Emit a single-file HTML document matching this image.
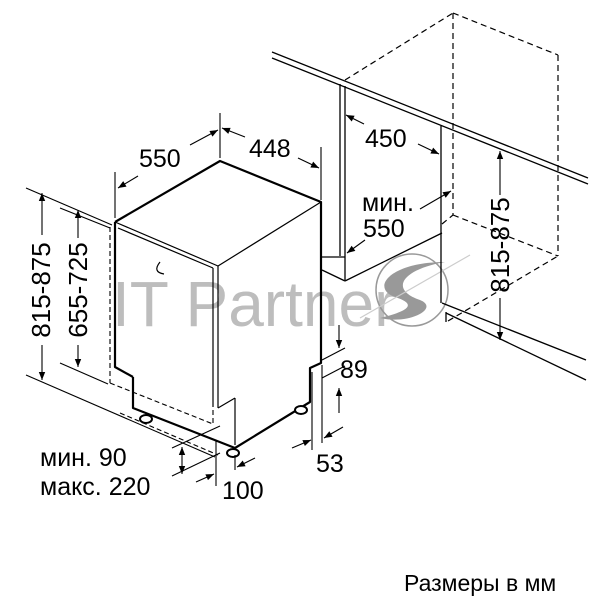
<!DOCTYPE html>
<html><head><meta charset="utf-8"><style>
html,body{margin:0;padding:0;background:#fff}
svg{display:block}
text{font-family:"Liberation Sans",sans-serif;fill:#000}
</style></head><body>
<svg width="600" height="600" viewBox="0 0 600 600" xmlns="http://www.w3.org/2000/svg">
<defs>
<marker id="a" viewBox="0 0 10 10" refX="10" refY="5" markerWidth="13" markerHeight="8" orient="auto-start-reverse" markerUnits="userSpaceOnUse"><path d="M0,1 L10,5 L0,9 Z" fill="#000"/></marker>
</defs>
<text x="112" y="326" font-size="64" style="fill:#bdbdbd">IT Partner</text>
<circle cx="412" cy="290" r="36" fill="none" stroke="#999" stroke-width="1.5"/>
<path d="M445,262 C400,270 390,290 420,300 C440,308 410,325 380,318 C405,312 420,305 395,297 C370,288 390,262 445,262Z" fill="#999"/>
<line x1="360" y1="318" x2="470" y2="255" stroke="#ccc" stroke-width="1.2"/>

<g fill="none" stroke="#000" stroke-width="1.3">
<line x1="272" y1="52" x2="588" y2="178"/>
<line x1="272" y1="58" x2="588" y2="184"/>
<line x1="340" y1="84" x2="340" y2="256"/>
<line x1="345" y1="86" x2="345" y2="280"/>
<line x1="322" y1="257" x2="345" y2="257"/>
<line x1="322" y1="270" x2="345" y2="281"/>
<line x1="345" y1="281" x2="442" y2="233"/>
<line x1="441" y1="126" x2="441" y2="303"/>
<line x1="442" y1="303" x2="586" y2="360"/>
<line x1="446" y1="312" x2="446" y2="322"/>
<line x1="446" y1="313" x2="586" y2="380"/>
</g>
<g fill="none" stroke="#000" stroke-width="1.2" stroke-dasharray="6,4">
<line x1="345" y1="80" x2="453" y2="13"/>
<line x1="453" y1="13" x2="558" y2="55"/>
<line x1="453" y1="13" x2="453" y2="215"/>
<line x1="558" y1="55" x2="558" y2="256"/>
<line x1="453" y1="215" x2="558" y2="256"/>
<line x1="442" y1="224" x2="453" y2="215"/>
<line x1="448" y1="321" x2="558" y2="256"/>
</g>

<g fill="none" stroke="#000" stroke-width="2.2" stroke-linejoin="round">
<polyline points="115,222 220,161 321,202 321,363 310,368 310,402 235,448 133,408 133,377"/>
<polyline points="115,222 115,367 133,377"/>
</g>
<g fill="none" stroke="#000" stroke-width="1.2">
<line x1="115" y1="222" x2="218" y2="266"/>
<line x1="218" y1="266" x2="321" y2="202"/>
<line x1="118" y1="228" x2="213" y2="268"/>
<line x1="213" y1="268" x2="213" y2="407"/>
<line x1="218" y1="266" x2="218" y2="408"/>
<line x1="218" y1="408" x2="235" y2="398"/>
<line x1="235" y1="398" x2="235" y2="445"/>
<path d="M160,262 q-8,10 4,12" />
</g>
<g fill="none" stroke="#000" stroke-width="1.1" stroke-dasharray="5,3">
<line x1="110" y1="227" x2="110" y2="383"/>
<line x1="110" y1="383" x2="213" y2="424"/>
<line x1="213" y1="410" x2="213" y2="424"/>
<line x1="120" y1="413" x2="218" y2="455"/>
</g>
<g fill="#fff" stroke="#000" stroke-width="2">
<ellipse cx="146" cy="419" rx="6" ry="4"/>
<ellipse cx="233" cy="453" rx="6" ry="4"/>
<ellipse cx="301" cy="410" rx="6" ry="4"/>
</g>

<g fill="none" stroke="#000" stroke-width="1.1">
<line x1="26" y1="188" x2="112" y2="225"/>
<line x1="26" y1="375" x2="215" y2="457"/>
<line x1="60" y1="208" x2="110" y2="228"/>
<line x1="60" y1="363" x2="108" y2="384"/>
<line x1="42" y1="235" x2="42" y2="193" marker-end="url(#a)"/>
<line x1="42" y1="345" x2="42" y2="380" marker-end="url(#a)"/>
<line x1="78" y1="238" x2="78" y2="210" marker-end="url(#a)"/>
<line x1="78" y1="345" x2="78" y2="367" marker-end="url(#a)"/>
<line x1="115" y1="172" x2="115" y2="218"/>
<line x1="220" y1="113" x2="220" y2="158"/>
<line x1="321" y1="147" x2="321" y2="200"/>
<line x1="138" y1="176" x2="118" y2="188" marker-end="url(#a)"/>
<line x1="190" y1="145" x2="218" y2="130" marker-end="url(#a)"/>
<line x1="245" y1="137" x2="222" y2="128" marker-end="url(#a)"/>
<line x1="298" y1="158" x2="319" y2="168" marker-end="url(#a)"/>
<line x1="364" y1="124" x2="346" y2="115" marker-end="url(#a)"/>
<line x1="418" y1="144" x2="439" y2="154" marker-end="url(#a)"/>
<line x1="420" y1="209" x2="451" y2="191" marker-end="url(#a)"/>
<line x1="365" y1="240" x2="347" y2="253" marker-end="url(#a)"/>
<line x1="500" y1="195" x2="500" y2="151" marker-end="url(#a)"/>
<line x1="500" y1="298" x2="500" y2="340" marker-end="url(#a)"/>
<line x1="339" y1="325" x2="339" y2="348" marker-end="url(#a)"/>
<line x1="322" y1="360" x2="345" y2="348"/>
<line x1="322" y1="378" x2="345" y2="366"/>
<line x1="339" y1="413" x2="339" y2="388" marker-end="url(#a)"/>
<line x1="312" y1="372" x2="312" y2="450"/>
<line x1="322" y1="365" x2="322" y2="443"/>
<line x1="292" y1="448" x2="311" y2="440" marker-end="url(#a)"/>
<line x1="343" y1="427" x2="324" y2="438" marker-end="url(#a)"/>
<line x1="172" y1="448" x2="220" y2="426"/>
<line x1="172" y1="476" x2="220" y2="453"/>
<line x1="182" y1="447" x2="182" y2="474" marker-start="url(#a)" marker-end="url(#a)"/>
<line x1="216" y1="440" x2="216" y2="486"/>
<line x1="235" y1="455" x2="235" y2="470"/>
<line x1="196" y1="482" x2="214" y2="474" marker-end="url(#a)"/>
<line x1="255" y1="458" x2="237" y2="467" marker-end="url(#a)"/>
</g>

<g font-size="25">
<text x="139" y="167">550</text>
<text x="249" y="157">448</text>
<text x="365" y="147">450</text>
<text x="362" y="211">мин.</text>
<text x="363" y="237">550</text>
<text x="340" y="378">89</text>
<text x="316" y="472">53</text>
<text x="222" y="499">100</text>
<text x="40" y="466">мин. 90</text>
<text x="40" y="495">макс. 220</text>
<text transform="translate(50,290) rotate(-90)" text-anchor="middle" font-size="26">815-875</text>
<text transform="translate(87,290) rotate(-90)" text-anchor="middle" font-size="26">655-725</text>
<text transform="translate(509,245) rotate(-90)" text-anchor="middle" font-size="26">815-875</text>
</g>
<text x="404" y="591" font-size="23">Размеры в мм</text>
</svg>
</body></html>
